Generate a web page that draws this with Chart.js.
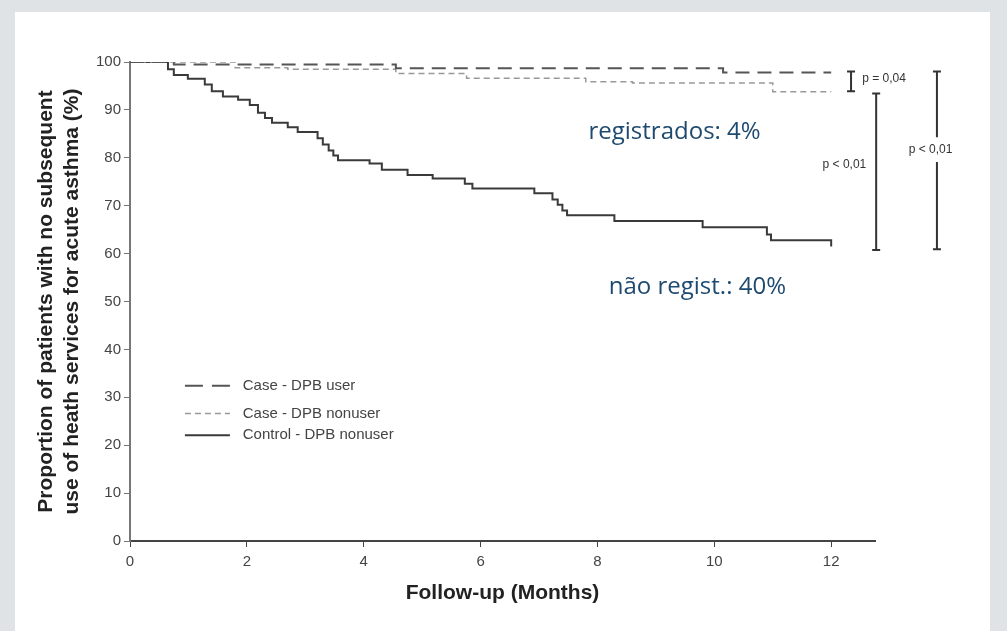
<!DOCTYPE html>
<html>
<head>
<meta charset="utf-8">
<title>Follow-up</title>
<script src="https://cdn.jsdelivr.net/npm/chart.js@4.4.1/dist/chart.umd.min.js"></script>
<style>
  html, body { margin: 0; padding: 0; background: #dfe3e6; }
  canvas { display: block; }
</style>
</head>
<body>
<canvas id="kmChart" width="1007" height="631"></canvas>
<script>
// tick labels
const monthTicks = [0, 2, 4, 6, 8, 10, 12];

// Case - DPB user
const caseUserMonths = [0, 0.75, 4.55, 10.15, 12];
const caseUserValues = [100, 99.5, 98.7, 97.8, 97.8];

// Case - DPB nonuser
const caseNonuserMonths = [0, 1.8, 2.7, 4.55, 5.76, 7.8, 8.6, 11.0, 12];
const caseNonuserValues = [100, 98.8, 98.5, 97.6, 96.6, 95.9, 95.6, 93.8, 93.8];

// Control - DPB nonuser
const controlMonths = [0, 0.65, 0.75, 0.99, 1.28, 1.40, 1.59, 1.85, 2.05, 2.19, 2.31, 2.43,
  2.70, 2.87, 3.21, 3.30, 3.40, 3.48, 3.56, 4.10, 4.31, 4.75, 5.18, 5.73, 5.86, 6.92,
  7.23, 7.32, 7.40, 7.48, 8.29, 9.80, 10.90, 10.97, 12.0];
const controlValues = [100, 98.5, 97.3, 96.5, 95.3, 93.9, 92.8, 92.1, 91.0, 89.4, 88.3, 87.3,
  86.4, 85.4, 84.1, 82.8, 81.5, 80.5, 79.5, 78.8, 77.5, 76.4, 75.7, 74.6, 73.6, 72.6,
  71.3, 70.2, 69.0, 68.0, 66.8, 65.5, 64.0, 62.8, 61.5];

const seriesLabels = ["Case - DPB user", "Case - DPB nonuser", "Control - DPB nonuser"];

const toPoints = (xs, ys) => xs.map((m, i) => ({ x: m, y: ys[i] }));

const panelPlugin = {
  id: "panel",
  beforeDraw(chart) {
    const { ctx, width, height } = chart;
    ctx.save();
    ctx.fillStyle = "#dfe3e6";
    ctx.fillRect(0, 0, width, height);
    ctx.fillStyle = "#ffffff";
    ctx.fillRect(15, 12, 975, height - 12);
    ctx.restore();
  }
};

// legend drawn inside the plot, like the original figure
const insetLegend = {
  id: "insetLegend",
  afterDraw(chart) {
    const { ctx, scales: { x, y } } = chart;
    const rows = [32.4, 26.6, 22.1];
    const sampleDash = [[18, 9], [6, 4], []];
    const x0 = x.getPixelForValue(0.94);
    const x1 = x.getPixelForValue(1.71);
    const xt = x.getPixelForValue(1.93);
    ctx.save();
    chart.data.datasets.forEach((ds, i) => {
      const py = y.getPixelForValue(rows[i]);
      ctx.beginPath();
      ctx.setLineDash(sampleDash[i]);
      ctx.strokeStyle = ds.borderColor;
      ctx.lineWidth = ds.borderWidth;
      ctx.moveTo(x0, py);
      ctx.lineTo(x1, py);
      ctx.stroke();
      ctx.setLineDash([]);
      ctx.fillStyle = "#444";
      ctx.font = '15px "Liberation Sans", Arial, sans-serif';
      ctx.textBaseline = "middle";
      ctx.textAlign = "left";
      ctx.fillText(ds.label, xt, py);
    });
    ctx.restore();
  }
};

// p-value brackets and the two blue notes
const notesPlugin = {
  id: "notes",
  afterDatasetsDraw(chart) {
    const { ctx, scales: { x, y } } = chart;
    const bracket = (mx, v0, v1, gap) => {
      const px = x.getPixelForValue(mx);
      const p0 = y.getPixelForValue(v0);
      const p1 = y.getPixelForValue(v1);
      ctx.beginPath();
      if (gap) {
        ctx.moveTo(px, p0);
        ctx.lineTo(px, y.getPixelForValue(gap[0]));
        ctx.moveTo(px, y.getPixelForValue(gap[1]));
        ctx.lineTo(px, p1);
      } else {
        ctx.moveTo(px, p0);
        ctx.lineTo(px, p1);
      }
      ctx.moveTo(px - 4, p0); ctx.lineTo(px + 4, p0);
      ctx.moveTo(px - 4, p1); ctx.lineTo(px + 4, p1);
      ctx.stroke();
    };
    ctx.save();
    ctx.strokeStyle = "#333";
    ctx.lineWidth = 2;
    bracket(12.34, 98.0, 93.9);
    bracket(12.77, 93.4, 60.75);
    bracket(13.81, 98.0, 60.9, [84.3, 79.1]);

    ctx.fillStyle = "#333";
    ctx.font = '12px "Liberation Sans", Arial, sans-serif';
    ctx.textBaseline = "middle";
    ctx.textAlign = "left";
    ctx.fillText("p = 0,04", x.getPixelForValue(12.53), y.getPixelForValue(96.5));
    ctx.textAlign = "right";
    ctx.fillText("p < 0,01", x.getPixelForValue(12.6), y.getPixelForValue(78.5));
    ctx.textAlign = "center";
    ctx.fillText("p < 0,01", x.getPixelForValue(13.7), y.getPixelForValue(81.6));

    ctx.fillStyle = "#1e4a70";
    ctx.font = '500 24px "Open Sans", sans-serif';
    ctx.fillText("registrados: 4%", x.getPixelForValue(9.32), y.getPixelForValue(85.4));
    ctx.fillText("não regist.: 40%", x.getPixelForValue(9.71), y.getPixelForValue(53.0));
    ctx.restore();
  }
};

document.addEventListener("DOMContentLoaded", () => {
  const ctx = document.getElementById("kmChart").getContext("2d");

  new Chart(ctx, {
    type: "line",
    data: {
      datasets: [
        {
          label: seriesLabels[0],
          data: toPoints(caseUserMonths, caseUserValues),
          borderColor: "#555555",
          borderWidth: 2,
          borderDash: [14, 8]
        },
        {
          label: seriesLabels[1],
          data: toPoints(caseNonuserMonths, caseNonuserValues),
          borderColor: "#999999",
          borderWidth: 1.5,
          borderDash: [6, 4]
        },
        {
          label: seriesLabels[2],
          data: toPoints(controlMonths, controlValues),
          borderColor: "#3a3a3a",
          borderWidth: 2
        }
      ]
    },
    options: {
      responsive: false,
      animation: false,
      layout: { padding: { top: 62, right: 132, bottom: 0, left: 0 } },
      elements: {
        point: { radius: 0 },
        line: { stepped: true, fill: false, tension: 0 }
      },
      scales: {
        x: {
          type: "linear",
          min: 0,
          max: 12.75,
          afterBuildTicks: (scale) => { scale.ticks = monthTicks.map(v => ({ value: v })); },
          afterFit: (scale) => { scale.height = 90; },
          grid: { display: true, drawOnChartArea: false, drawTicks: true, tickLength: 6, color: "#444" },
          border: { display: true, color: "#444", width: 2 },
          ticks: {
            color: "#444",
            padding: 6,
            font: { family: '"Liberation Sans", Arial, sans-serif', size: 15 }
          },
          title: {
            display: true,
            text: "Follow-up (Months)",
            color: "#222",
            padding: { top: 4, bottom: 25 },
            font: { family: '"Liberation Sans", Arial, sans-serif', size: 21, weight: "bold" }
          }
        },
        y: {
          min: 0,
          max: 100,
          afterFit: (scale) => { scale.width = 130; },
          grid: { display: true, drawOnChartArea: false, drawTicks: true, tickLength: 6, color: "#777" },
          border: { display: true, color: "#777", width: 2 },
          ticks: {
            stepSize: 10,
            color: "#444",
            padding: 3,
            font: { family: '"Liberation Sans", Arial, sans-serif', size: 15 }
          },
          title: {
            display: true,
            text: ["Proportion of patients with no subsequent", "use of heath services for acute asthma (%)"],
            color: "#222",
            padding: { top: 34, bottom: 0 },
            font: { family: '"Liberation Sans", Arial, sans-serif', size: 21, weight: "bold", lineHeight: 1.2 }
          }
        }
      },
      plugins: {
        legend: { display: false },
        tooltip: { enabled: false }
      }
    },
    plugins: [panelPlugin, insetLegend, notesPlugin]
  });
});
</script>
</body>
</html>
